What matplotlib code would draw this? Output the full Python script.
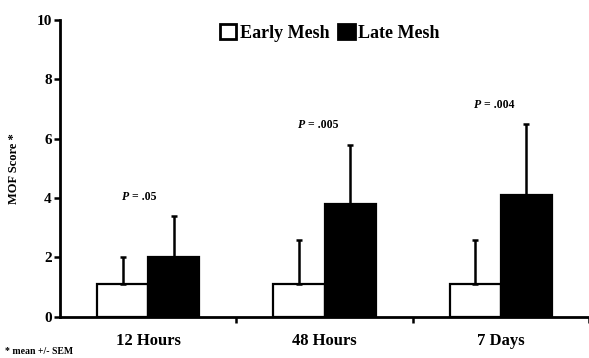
import numpy as np
import matplotlib.pyplot as plt

categories = ["12 Hours", "48 Hours", "7 Days"]
early_mean = [1.1, 1.1, 1.1]
early_sem = [0.9, 1.5, 1.5]
late_mean = [2.0, 3.8, 4.1]
late_sem = [1.4, 2.0, 2.4]
p_labels = [".05", ".005", ".004"]

plt.rcParams["font.family"] = ["Liberation Serif", "DejaVu Serif"]
plt.rcParams["font.weight"] = "bold"

fig = plt.figure(figsize=(5.89, 3.58), dpi=100)
ax = fig.add_axes([0.102, 0.115, 0.898, 0.829])

x = np.arange(len(categories)) + 0.5
w = 0.29
eb = dict(ecolor="black", elinewidth=1.8, capsize=2.5, capthick=1.8)
ax.bar(x - w / 2, early_mean, w, color="white", edgecolor="black", linewidth=1.6,
       yerr=[np.zeros(3), early_sem], error_kw=eb, label="Early Mesh")
ax.bar(x + w / 2, late_mean, w, color="black", edgecolor="black", linewidth=1.6,
       yerr=[np.zeros(3), late_sem], error_kw=eb, label="Late Mesh")

# p-values above each pair: italic P, then the value
for xi, m, s, p in zip(x, late_mean, late_sem, p_labels):
    xp, yp = xi - 0.11, m + s + 0.45
    ax.text(xp, yp, "P", ha="right", va="bottom", fontsize=8.5,
            fontweight="bold", style="italic")
    ax.text(xp, yp, " = " + p, ha="left", va="bottom", fontsize=8.5,
            fontweight="bold")

ax.set_xlim(0, 3)
ax.set_ylim(0, 10)
ax.set_yticks([0, 2, 4, 6, 8, 10])
ax.set_xticks(x)
ax.set_xticklabels(categories, fontsize=12, fontweight="bold")
ax.tick_params(axis="x", length=0, pad=12)
ax.set_xticks([1, 2, 3], minor=True)
ax.tick_params(axis="x", which="minor", length=4, width=1.8, direction="out")
ax.tick_params(axis="y", length=4, width=1.8, labelsize=11, pad=2)
for lbl in ax.get_yticklabels():
    lbl.set_fontweight("bold")
ax.spines["top"].set_visible(False)
ax.spines["right"].set_visible(False)
ax.spines["left"].set_linewidth(2)
ax.spines["bottom"].set_linewidth(2)
ax.set_ylabel("MOF Score *", fontsize=9, fontweight="bold", labelpad=12)

leg = ax.legend(loc="upper center", bbox_to_anchor=(0.51, 1.04), ncol=2,
                frameon=False, fontsize=13, handlelength=0.9, handleheight=0.9,
                handletextpad=0.2, columnspacing=0.5)
for t in leg.get_texts():
    t.set_fontweight("bold")
for h in leg.legend_handles:
    h.set_linewidth(2)

fig.text(0.008, 0.01, "* mean +/- SEM", fontsize=7, fontweight="bold")

fig.savefig("out.png", dpi=100)
